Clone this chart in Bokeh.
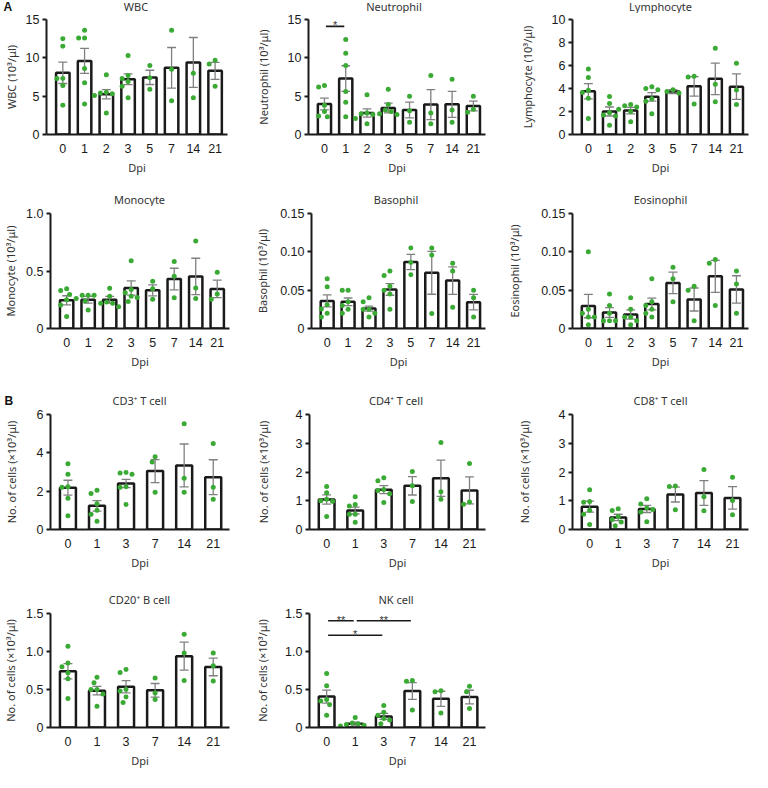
from bokeh.plotting import figure
from bokeh.layouts import row, column
from bokeh.models import FixedTicker, Label, Range1d, CustomJSTickFormatter
from bokeh.embed import file_html
from bokeh.resources import INLINE

# ---------------- data ----------------
dpi_cbc = ["0", "1", "2", "3", "5", "7", "14", "21"]
dpi_lym = ["0", "1", "3", "7", "14", "21"]

wbc_mean = [8.05, 9.6, 5.25, 7.2, 7.45, 8.7, 9.4, 8.3]
wbc_sem = [1.4, 1.64, 0.6, 0.7, 0.93, 2.65, 3.25, 1.1]
wbc_pts = [[12.5, 11.5, 7.3, 7.3, 6.4, 3.8], [13.6, 12.6, 12.6, 8.6, 6.75, 3.97],
           [7.8, 5.5, 5.4, 5.3, 5.1, 2.8], [10.3, 7.7, 7.3, 6.9, 6.3, 4.8],
           [9.0, 7.4, 5.9], [13.6, 8.5, 4.4], [15.4, 8.0, 4.8], [9.7, 9.2, 6.3]]

neu_mean = [3.97, 7.3, 2.8, 3.46, 3.2, 3.9, 3.93, 3.72]
neu_sem = [0.77, 1.67, 0.53, 0.64, 1.03, 1.95, 1.7, 0.64]
neu_pts = [[6.4, 6.2, 3.8, 3.0, 2.4, 2.3], [12.4, 10.6, 9.0, 5.6, 4.2, 2.3],
           [5.2, 2.8, 2.7, 2.6, 2.1, 1.4], [5.9, 3.9, 3.2, 3.0, 2.7, 2.6],
           [5.0, 3.1, 1.6], [7.7, 2.8, 1.4], [7.2, 3.2, 1.6], [5.0, 3.3, 2.9]]
neu_sig = [("0", "1", 14.1, "*")]

lym_mean = [3.76, 2.0, 2.08, 3.28, 3.73, 4.19, 4.84, 4.16]
lym_sem = [0.66, 0.39, 0.28, 0.37, 0.17, 0.85, 1.37, 1.11]
lym_pts = [[5.7, 4.95, 3.85, 3.65, 3.15, 1.4], [3.3, 2.7, 1.9, 1.7, 1.6, 0.8],
           [2.6, 2.5, 2.4, 2.2, 2.0, 1.1], [4.15, 4.0, 3.9, 3.1, 2.9, 1.8],
           [3.9, 3.75, 3.6], [5.07, 5.0, 2.65], [7.49, 4.36, 2.85], [6.2, 3.87, 2.6]]

mono_mean = [0.245, 0.25, 0.25, 0.352, 0.332, 0.43, 0.453, 0.344]
mono_sem = [0.04, 0.03, 0.03, 0.062, 0.048, 0.094, 0.158, 0.076]
mono_pts = [[0.33, 0.346, 0.296, 0.25, 0.205, 0.104], [0.29, 0.29, 0.29, 0.26, 0.24, 0.16],
            [0.35, 0.28, 0.23, 0.22, 0.22, 0.19], [0.59, 0.34, 0.31, 0.28, 0.27, 0.234],
            [0.41, 0.345, 0.254], [0.583, 0.454, 0.268], [0.76, 0.352, 0.26], [0.49, 0.30, 0.255]]

baso_mean = [0.036, 0.0348, 0.026, 0.051, 0.0867, 0.0727, 0.0625, 0.0344]
baso_sem = [0.0078, 0.005, 0.0033, 0.0076, 0.01, 0.028, 0.018, 0.0102]
baso_pts = [[0.065, 0.0545, 0.031, 0.0255, 0.02, 0.015], [0.05, 0.05, 0.035, 0.03, 0.025, 0.02],
            [0.04, 0.035, 0.025, 0.025, 0.02, 0.015], [0.075, 0.069, 0.055, 0.05, 0.045, 0.025],
            [0.105, 0.086, 0.07], [0.105, 0.096, 0.0196], [0.085, 0.075, 0.0276], [0.05, 0.04, 0.015]]

eos_mean = [0.0293, 0.0208, 0.0183, 0.0319, 0.0595, 0.0378, 0.068, 0.051]
eos_sem = [0.0153, 0.0064, 0.006, 0.0076, 0.014, 0.015, 0.0208, 0.0178]
eos_pts = [[0.1, 0.025, 0.02, 0.015, 0.015, 0.005], [0.045, 0.03, 0.02, 0.01, 0.01, 0.01],
           [0.04, 0.025, 0.015, 0.015, 0.01, 0.005], [0.065, 0.035, 0.03, 0.025, 0.02, 0.015],
           [0.08, 0.065, 0.035], [0.055, 0.05, 0.01], [0.09, 0.085, 0.03], [0.075, 0.058, 0.02]]

cd3_mean = [2.18, 1.235, 2.4, 3.05, 3.34, 2.73]
cd3_sem = [0.39, 0.275, 0.22, 0.6, 1.12, 0.91]
cd3_pts = [[3.43, 2.88, 2.23, 2.2, 1.63, 0.72], [2.05, 1.88, 1.35, 1.0, 0.8, 0.43],
           [2.97, 2.95, 2.88, 2.23, 2.2, 1.3], [3.8, 3.52, 1.94], [5.52, 2.68, 1.94], [4.49, 2.2, 1.58]]

cd4_mean = [1.045, 0.66, 1.386, 1.52, 1.78, 1.36]
cd4_sem = [0.16, 0.12, 0.14, 0.32, 0.63, 0.47]
cd4_pts = [[1.5, 1.28, 1.05, 1.0, 0.98, 0.45], [1.14, 0.87, 0.82, 0.53, 0.53, 0.25],
           [1.8, 1.7, 1.39, 1.36, 1.24, 0.94], [2.02, 1.52, 0.97], [3.03, 1.31, 1.05], [2.3, 0.96, 0.88]]

cd8_mean = [0.795, 0.42, 0.716, 1.216, 1.27, 1.1]
cd8_sem = [0.19, 0.11, 0.125, 0.26, 0.43, 0.39]
cd8_pts = [[1.38, 0.97, 0.95, 0.67, 0.53, 0.17], [0.72, 0.66, 0.45, 0.35, 0.26, 0.13],
           [1.07, 0.89, 0.75, 0.7, 0.61, 0.27], [1.51, 1.5, 0.69], [2.09, 1.14, 0.65], [1.82, 1.01, 0.51]]

cd20_mean = [0.74, 0.484, 0.536, 0.489, 0.939, 0.797]
cd20_sem = [0.1, 0.056, 0.08, 0.09, 0.184, 0.116]
cd20_pts = [[1.07, 0.85, 0.8, 0.72, 0.64, 0.38], [0.66, 0.59, 0.5, 0.5, 0.44, 0.28],
            [0.763, 0.724, 0.5, 0.48, 0.4, 0.33], [0.65, 0.455, 0.37], [1.226, 0.98, 0.62], [0.98, 0.814, 0.613]]

nk_mean = [0.407, 0.05, 0.146, 0.48, 0.377, 0.4]
nk_sem = [0.086, 0.02, 0.04, 0.11, 0.1, 0.09]
nk_pts = [[0.71, 0.55, 0.37, 0.35, 0.3, 0.16], [0.13, 0.06, 0.05, 0.04, 0.03, 0.02],
          [0.29, 0.2, 0.16, 0.12, 0.1, 0.05], [0.62, 0.61, 0.23], [0.484, 0.47, 0.19], [0.544, 0.47, 0.25]]
nk_sig = [("0", "1", 1.405, "**"), ("1", "7", 1.405, "**"), ("0", "3", 1.213, "*")]

wbc_ticks, wbc_tl = [0, 5, 10, 15], ["0", "5", "10", "15"]
lym_ticks, lym_tl = [0, 2, 4, 6, 8, 10], ["0", "2", "4", "6", "8", "10"]
mono_ticks, mono_tl = [0, 0.5, 1.0], ["0", "0.5", "1.0"]
small_ticks, small_tl = [0, 0.05, 0.10, 0.15], ["0", "0.05", "0.10", "0.15"]
cd3_ticks, cd3_tl = [0, 2, 4, 6], ["0", "2", "4", "6"]
cd48_ticks, cd48_tl = [0, 1, 2, 3, 4], ["0", "1", "2", "3", "4"]
b_ticks, b_tl = [0, 0.5, 1.0, 1.5], ["0", "0.5", "1.0", "1.5"]

titles_row1 = ["WBC", "Neutrophil", "Lymphocyte"]
titles_row2 = ["Monocyte", "Basophil", "Eosinophil"]
titles_row3 = ["CD3\u207a T cell", "CD4\u207a T cell", "CD8\u207a T cell"]
titles_row4 = ["CD20\u207a B cell", "NK cell"]
panel_letters = ["A", "B"]

unit_lab = "(10\u00b3/\u03bcl)"
cells_lab = "No. of cells (\u00d710\u00b3/\u03bcl)"

# ---------------- style / geometry ----------------
GREEN = "#3aaa35"
AXC = "#1a1a1a"
EBC = "#808080"
TXT = "#333333"
FRAME_H = 115
TOTAL_W = 750
COL_X = [0, 252, 502]
CW = [252, 250, 248]
TICKJS = ("let b=0; for (let i=0;i<t.length;i++){ if (Math.abs(t[i]-tick) < Math.abs(t[b]-tick)) b=i; } "
          "return l[b];")


def swarm(vals, x0, ppx, ppy, d=6.0, step=3.0):
    placed = []
    res = [0.0] * len(vals)
    cands = [0.0]
    for k in range(1, 10):
        cands += [-k * step, k * step]
    order = sorted(range(len(vals)), key=lambda i: -vals[i])
    for i in order:
        y = vals[i] * ppy
        chosen = cands[-1]
        for c in cands:
            if all((c - px) ** 2 + (y - py) ** 2 >= d * d for px, py in placed):
                chosen = c
                break
        placed.append((chosen, y))
        res[i] = x0 + chosen / ppx
    return res


def xrange_for(n):
    return (-0.75, 7.57) if n == 8 else (-0.6, 5.56)


def panel(ylabel, cats, means, sems, pts, yt, ytl, fig_w, fig_h, left, fw, top,
          ylab_standoff, sig=None):
    n = len(cats)
    fh = FRAME_H
    xr = xrange_for(n)
    bw = 0.62 if n == 8 else 0.55
    ymax = yt[-1]
    p = figure(width=fig_w, height=fig_h, x_range=Range1d(*xr), y_range=Range1d(0, ymax),
               output_backend="svg", toolbar_location=None, tools="",
               min_border_left=left, min_border_right=fig_w - left - fw,
               min_border_top=top, min_border_bottom=fig_h - top - fh)
    p.outline_line_color = None
    p.xgrid.visible = False
    p.ygrid.visible = False
    p.background_fill_color = "white"
    p.border_fill_color = "white"
    ppx = fw / (xr[1] - xr[0])
    ppy = fh / ymax
    xs = list(range(n))

    p.vbar(x=xs, top=means, bottom=0, width=bw, fill_color="white",
           line_color=AXC, line_width=2.5)
    lo = [m - s for m, s in zip(means, sems)]
    hi = [m + s for m, s in zip(means, sems)]
    cw = 4.5 / ppx
    p.segment(x0=xs, y0=lo, x1=xs, y1=hi, line_color=EBC, line_width=1.3)
    p.segment(x0=[x - cw for x in xs], y0=hi, x1=[x + cw for x in xs], y1=hi,
              line_color=EBC, line_width=1.3)
    p.segment(x0=[x - cw for x in xs], y0=lo, x1=[x + cw for x in xs], y1=lo,
              line_color=EBC, line_width=1.3)

    dx, dy = [], []
    for i, vals in enumerate(pts):
        dx += swarm(vals, i, ppx, ppy)
        dy += list(vals)
    p.scatter(x=dx, y=dy, size=5, fill_color=GREEN, line_color=None)

    if sig:
        gap = 1.5 / ppx
        for a, b, yv, txt in sig:
            xa, xb = cats.index(a), cats.index(b)
            p.segment(x0=[xa + gap], y0=[yv], x1=[xb - gap], y1=[yv],
                      line_color=AXC, line_width=1.6)
            p.add_layout(Label(x=(xa + xb) / 2, y=yv + 1.0 / ppy, text=txt,
                               text_align="center", text_baseline="alphabetic",
                               text_font="Liberation Sans", text_font_size="11px",
                               text_color="#333333"))

    xa_ = p.xaxis[0]
    xa_.ticker = FixedTicker(ticks=xs, minor_ticks=[])
    xa_.formatter = CustomJSTickFormatter(args=dict(t=xs, l=cats), code=TICKJS)
    xa_.axis_label = "Dpi"
    xa_.major_tick_line_color = None
    xa_.major_tick_out = 0
    xa_.major_tick_in = 0
    xa_.minor_tick_line_color = None
    xa_.axis_line_width = 2
    xa_.axis_line_color = AXC
    xa_.major_label_standoff = 9
    xa_.axis_label_standoff = 4
    xa_.major_label_text_font = "Liberation Sans"
    xa_.major_label_text_font_size = "12.5px"
    xa_.major_label_text_color = AXC
    xa_.axis_label_text_font = "Noto Sans"
    xa_.axis_label_text_font_size = "11px"
    xa_.axis_label_text_font_style = "normal"
    xa_.axis_label_text_color = TXT

    ya = p.yaxis[0]
    ya.ticker = FixedTicker(ticks=yt, minor_ticks=[])
    ya.formatter = CustomJSTickFormatter(args=dict(t=yt, l=ytl), code=TICKJS)
    ya.axis_label = ylabel
    ya.major_tick_out = 4
    ya.major_tick_in = 0
    ya.major_tick_line_width = 2
    ya.major_tick_line_color = AXC
    ya.minor_tick_line_color = None
    ya.axis_line_width = 2
    ya.axis_line_color = AXC
    ya.major_label_standoff = 3
    ya.axis_label_standoff = ylab_standoff
    ya.major_label_text_font = "Liberation Sans"
    ya.major_label_text_font_size = "12.5px"
    ya.major_label_text_color = AXC
    ya.axis_label_text_font = "Noto Sans"
    ya.axis_label_text_font_size = "11px"
    ya.axis_label_text_font_style = "normal"
    ya.axis_label_text_color = TXT
    return p


def strip(h, titles, frames, y_center, letter=None, letter_x=3):
    s = figure(width=TOTAL_W, height=h, x_range=Range1d(0, TOTAL_W), y_range=Range1d(0, h),
               output_backend="svg", toolbar_location=None, tools="",
               x_axis_type=None, y_axis_type=None, min_border=0)
    s.outline_line_color = None
    s.xgrid.visible = False
    s.ygrid.visible = False
    s.background_fill_color = "white"
    s.border_fill_color = "white"
    for t, (col, left, fw) in zip(titles, frames):
        s.add_layout(Label(x=COL_X[col] + left + fw / 2, y=h - y_center, text=t,
                           text_align="center", text_baseline="middle",
                           text_font="Noto Sans", text_font_size="11px", text_color=TXT))
    if letter:
        s.add_layout(Label(x=letter_x, y=h - y_center, text=letter,
                           text_align="left", text_baseline="middle",
                           text_font="Liberation Sans", text_font_size="12px",
                           text_font_style="bold", text_color="#111111"))
    return s


# frames: (column, left border, frame width)
F1 = [(0, 44, 183), (1, 50, 183), (2, 70, 176)]
F2 = [(0, 49, 180), (1, 54, 179), (2, 70, 176)]
F3 = [(0, 49, 180), (1, 54, 179), (2, 70, 176)]
F4 = [(0, 49, 180), (1, 54, 179)]

H1, T1 = 177, 6
H2, T2 = 184, 7
H3, T3 = 182, 6
H4, T4 = 163, 6

s1 = strip(13, titles_row1, F1, 6, letter=panel_letters[0], letter_x=3)
p1 = panel("WBC " + unit_lab, dpi_cbc, wbc_mean, wbc_sem, wbc_pts, wbc_ticks, wbc_tl,
           CW[0], H1, F1[0][1], F1[0][2], T1, 4)
p2 = panel("Neutrophil " + unit_lab, dpi_cbc, neu_mean, neu_sem, neu_pts,
           wbc_ticks, wbc_tl, CW[1], H1, F1[1][1], F1[1][2], T1, 14, sig=neu_sig)
p3 = panel("Lymphocyte " + unit_lab, dpi_cbc, lym_mean, lym_sem, lym_pts,
           lym_ticks, lym_tl, CW[2], H1, F1[2][1], F1[2][2], T1, 14)

s2 = strip(16, titles_row2, F2, 9)
p4 = panel("Monocyte " + unit_lab, dpi_cbc, mono_mean, mono_sem, mono_pts,
           mono_ticks, mono_tl, CW[0], H2, F2[0][1], F2[0][2], T2, 5)
p5 = panel("Basophil " + unit_lab, dpi_cbc, baso_mean, baso_sem, baso_pts,
           small_ticks, small_tl, CW[1], H2, F2[1][1], F2[1][2], T2, 7)
p6 = panel("Eosinophil " + unit_lab, dpi_cbc, eos_mean, eos_sem, eos_pts,
           small_ticks, small_tl, CW[2], H2, F2[2][1], F2[2][2], T2, 16)

s3 = strip(18, titles_row3, F3, 10, letter=panel_letters[1], letter_x=4)
p7 = panel(cells_lab, dpi_lym, cd3_mean, cd3_sem, cd3_pts,
           cd3_ticks, cd3_tl, CW[0], H3, F3[0][1], F3[0][2], T3, 15)
p8 = panel(cells_lab, dpi_lym, cd4_mean, cd4_sem, cd4_pts,
           cd48_ticks, cd48_tl, CW[1], H3, F3[1][1], F3[1][2], T3, 22)
p9 = panel(cells_lab, dpi_lym, cd8_mean, cd8_sem, cd8_pts,
           cd48_ticks, cd48_tl, CW[2], H3, F3[2][1], F3[2][2], T3, 24)

s4 = strip(17, titles_row4, F4, 9)
p10 = panel(cells_lab, dpi_lym, cd20_mean, cd20_sem, cd20_pts,
            b_ticks, b_tl, CW[0], H4, F4[0][1], F4[0][2], T4, 5)
p11 = panel(cells_lab, dpi_lym, nk_mean, nk_sem, nk_pts,
            b_ticks, b_tl, CW[1], H4, F4[1][1], F4[1][2], T4, 12, sig=nk_sig)

layout = column(s1, row(p1, p2, p3), s2, row(p4, p5, p6), s3, row(p7, p8, p9),
                s4, row(p10, p11))

open("out.html", "w").write(file_html(layout, INLINE))
